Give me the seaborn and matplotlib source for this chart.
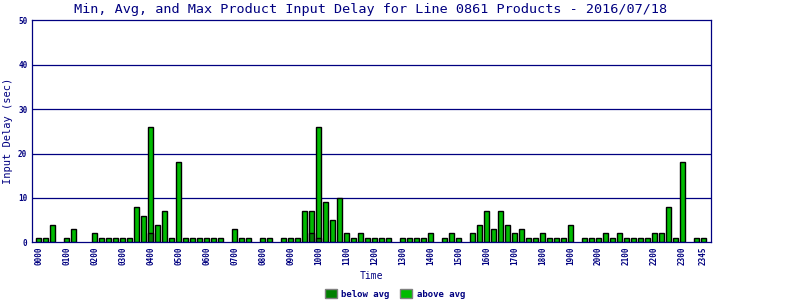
import matplotlib
matplotlib.use("Agg")
import matplotlib.pyplot as plt
import matplotlib.patches as mpatches
import seaborn as sns
import pandas as pd
import numpy as np

# 15-minute time slots 0000 .. 2345
times = [f"{h:02d}{m:02d}" for h in range(24) for m in (0, 15, 30, 45)]

# maximum delay per slot (sec), 0 = no bar
max_delay = [
    1, 1, 4, 0, 1, 3, 0, 0,      # 0000-0145
    2, 1, 1, 1, 1, 1, 8, 6,      # 0200-0345
    26, 4, 7, 1, 18, 1, 1, 1,    # 0400-0545
    1, 1, 1, 0, 3, 1, 1, 0,      # 0600-0745
    1, 1, 0, 1, 1, 1, 7, 7,      # 0800-0945
    26, 9, 5, 10, 2, 1, 2, 1,    # 1000-1145
    1, 1, 1, 0, 1, 1, 1, 1,      # 1200-1345
    2, 0, 1, 2, 1, 0, 2, 4,      # 1400-1545
    7, 3, 7, 4, 2, 3, 1, 1,      # 1600-1745
    2, 1, 1, 1, 4, 0, 1, 1,      # 1800-1945
    1, 2, 1, 2, 1, 1, 1, 1,      # 2000-2145
    2, 2, 8, 1, 18, 0, 1, 1,     # 2200-2345
]

# portion below average per slot (sec)
below_avg = [0] * 96
below_avg[16] = 2
below_avg[39] = 2
below_avg[40] = 1

navy = "#000080"
bright = "#00BB00"
dark = "#008000"

sns.set_theme(style="white")
plt.rcParams["font.family"] = ["DejaVu Sans Mono", "DejaVu Sans"]

df_max = pd.DataFrame({"time": times, "delay": max_delay})
df_max = df_max[df_max["delay"] > 0]
df_below = pd.DataFrame({"time": times, "delay": below_avg})
df_below = df_below[df_below["delay"] > 0]

fig = plt.figure(figsize=(8, 3), dpi=100)
ax = fig.add_axes([31.5 / 800, 1 - 242.3 / 300, (710.5 - 31.5) / 800, (242.3 - 20.3) / 300])

sns.barplot(data=df_max, x="time", y="delay", order=times, color=bright,
            edgecolor="black", linewidth=1, width=0.75, saturation=1, ax=ax)
sns.barplot(data=df_below, x="time", y="delay", order=times, color=dark,
            edgecolor="black", linewidth=1, width=0.75, saturation=1, ax=ax)

ax.set_xlim(-1, 96)
ax.set_ylim(0, 50)
ax.set_yticks([0, 10, 20, 30, 40, 50])
ax.set_yticklabels(["0", "10", "20", "30", "40", "50"], fontsize=5.5,
                   fontweight="bold", color=navy)
tick_pos = list(range(0, 96, 4)) + [95]
ax.set_xticks(tick_pos)
ax.set_xticklabels([times[i] for i in tick_pos], rotation=90, fontsize=5.5,
                   fontweight="bold", color=navy)
ax.tick_params(axis="both", length=0, pad=3)

for y in [10, 20, 30, 40]:
    ax.axhline(y, color=navy, linewidth=0.9, zorder=0)
for s in ax.spines.values():
    s.set_color(navy)
    s.set_linewidth(0.9)
    s.set_visible(True)

ax.set_xlabel("Time", fontsize=7, color=navy, labelpad=4)
ax.set_ylabel("Input Delay (sec)", fontsize=7.5, color=navy, labelpad=4)
fig.text(371 / 800, 1 - 9 / 300, "Min, Avg, and Max Product Input Delay for Line 0861 Products - 2016/07/18",
         ha="center", va="center", fontsize=9.7, color=navy)

handles = [mpatches.Patch(facecolor=dark, edgecolor="gray", label="below avg"),
           mpatches.Patch(facecolor=bright, edgecolor="gray", label="above avg")]
leg = fig.legend(handles=handles, loc="center", bbox_to_anchor=(395 / 800, 1 - 294 / 300),
                 ncol=2, frameon=False, fontsize=6.5, handlelength=1.3, handleheight=1.0,
                 columnspacing=1.2, handletextpad=0.5)
for t in leg.get_texts():
    t.set_color(navy)
    t.set_fontweight("bold")

fig.savefig("out.png", dpi=100)
